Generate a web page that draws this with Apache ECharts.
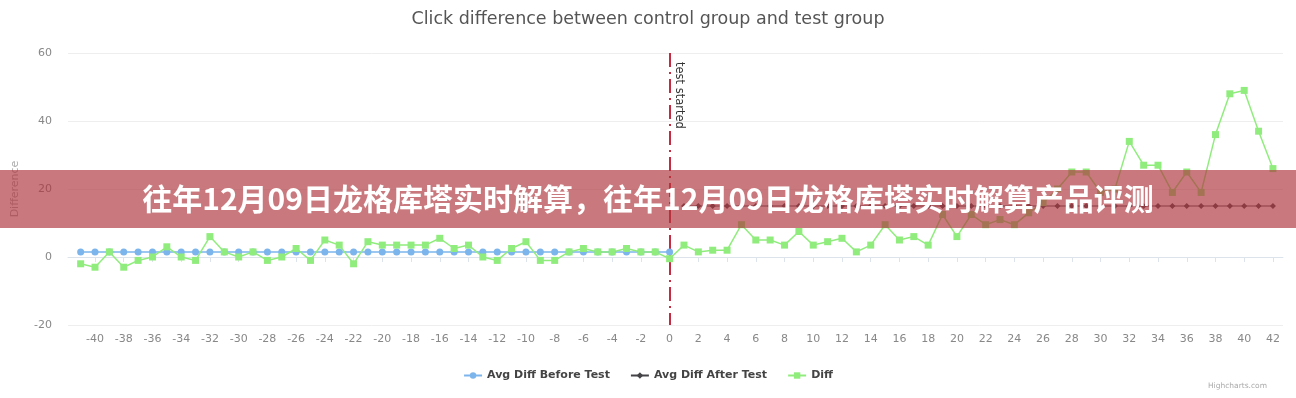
<!DOCTYPE html>
<html>
<head>
<meta charset="utf-8">
<script src="https://cdn.jsdelivr.net/npm/echarts@6/dist/echarts.min.js"></script>
<style>
  html, body { margin: 0; padding: 0; background: #fff; }
  #chart { width: 1296px; height: 398px; }
</style>
</head>
<body>
<div id="chart"></div>
<script>
// days relative to test start
const days = [
  -41, -40, -39, -38, -37, -36, -35, -34, -33, -32, -31, -30, -29, -28,
  -27, -26, -25, -24, -23, -22, -21, -20, -19, -18, -17, -16, -15, -14,
  -13, -12, -11, -10, -9, -8, -7, -6, -5, -4, -3, -2, -1, 0,
  1, 2, 3, 4, 5, 6, 7, 8, 9, 10, 11, 12, 13, 14,
  15, 16, 17, 18, 19, 20, 21, 22, 23, 24, 25, 26, 27, 28,
  29, 30, 31, 32, 33, 34, 35, 36, 37, 38, 39, 40, 41, 42
]
const diff = [
  -2, -3, 1.5, -3, -1, 0, 3, 0, -1, 6, 1.5, 0, 1.5, -1,
  0, 2.5, -1, 5, 3.5, -2, 4.5, 3.5, 3.5, 3.5, 3.5, 5.5, 2.5, 3.5,
  0, -1, 2.5, 4.5, -1, -1, 1.5, 2.5, 1.5, 1.5, 2.5, 1.5, 1.5, -0.5,
  3.5, 1.5, 2, 2, 9.5, 5, 5, 3.5, 7.5, 3.5, 4.5, 5.5, 1.5, 3.5,
  9.5, 5, 6, 3.5, 12.5, 6, 12.5, 9.5, 11, 9.5, 13, 16, 20, 25,
  25, 19, 20, 34, 27, 27, 19, 25, 19, 36, 48, 49, 37, 26
]
// avg before test: days -41..0, avg after test: days 1..42
const avgBefore = [
  1.5, 1.5, 1.5, 1.5, 1.5, 1.5, 1.5, 1.5, 1.5, 1.5, 1.5, 1.5, 1.5, 1.5,
  1.5, 1.5, 1.5, 1.5, 1.5, 1.5, 1.5, 1.5, 1.5, 1.5, 1.5, 1.5, 1.5, 1.5,
  1.5, 1.5, 1.5, 1.5, 1.5, 1.5, 1.5, 1.5, 1.5, 1.5, 1.5, 1.5, 1.5, 1.5
]
const avgAfter = [
  15, 15, 15, 15, 15, 15, 15, 15, 15, 15, 15, 15, 15, 15,
  15, 15, 15, 15, 15, 15, 15, 15, 15, 15, 15, 15, 15, 15,
  15, 15, 15, 15, 15, 15, 15, 15, 15, 15, 15, 15, 15, 15
]
const xTicks = [
  -40, -38, -36, -34, -32, -30, -28, -26, -24, -22, -20, -18, -16, -14,
  -12, -10, -8, -6, -4, -2, 0, 2, 4, 6, 8, 10, 12, 14, 16, 18, 20, 22,
  24, 26, 28, 30, 32, 34, 36, 38, 40, 42
]

const beforeDays = days.slice(0, avgBefore.length)
const afterDays = days.slice(avgBefore.length)
const font = '"DejaVu Sans", sans-serif'

const chart = echarts.init(document.getElementById('chart'))
chart.setOption({
  animation: false,
  title: [
    {
      text: 'Click difference between control group and test group',
      left: 'center', top: 5,
      textStyle: { color: '#555', fontSize: 17.5, fontWeight: 'normal', fontFamily: font }
    },
    {
      text: 'Highcharts.com',
      right: 24, bottom: 3,
      textStyle: { color: '#aaa', fontSize: 7.5, fontWeight: 'normal', fontFamily: font }
    }
  ],
  legend: {
    top: 365,
    left: 'center',
    itemWidth: 18, itemHeight: 8, itemGap: 20,
    textStyle: { color: '#444', fontSize: 11, fontWeight: 'bold', fontFamily: font },
    data: ['Avg Diff Before Test', 'Avg Diff After Test', 'Diff']
  },
  grid: { left: 68, right: 13, top: 53, bottom: 73 },
  xAxis: {
    type: 'value',
    min: -41.88, max: 42.7,
    splitLine: { show: false },
    axisLine: { lineStyle: { color: '#dde3ea' } },
    axisTick: { show: true, length: 5, customValues: xTicks, lineStyle: { color: '#dde3ea' } },
    axisLabel: { customValues: xTicks, color: '#888', fontSize: 11, margin: 9, fontFamily: font }
  },
  yAxis: {
    type: 'value',
    min: -20, max: 60, interval: 20,
    name: 'Difference',
    nameLocation: 'middle',
    nameGap: 47,
    nameTextStyle: { color: '#aaa', fontSize: 11, fontFamily: font },
    axisLine: { show: false },
    axisTick: { show: false },
    axisLabel: { color: '#888', fontSize: 11, margin: 16, fontFamily: font },
    splitLine: { lineStyle: { color: '#eeeeee' } }
  },
  series: [
    {
      name: 'Avg Diff Before Test',
      type: 'line',
      color: '#7cb5ec',
      symbol: 'circle', symbolSize: 7,
      lineStyle: { width: 1.5 },
      data: beforeDays.map((d, i) => [d, avgBefore[i]]),
      markLine: {
        silent: true,
        symbol: ['none', 'none'],
        z: 1,
        lineStyle: { color: '#c42a40', type: [14, 5, 2, 5], width: 2 },
        label: {
          show: true, formatter: 'test started', position: 'insideStartTop',
          color: '#333', fontSize: 11.5, fontFamily: font, distance: [9, 3]
        },
        data: [[{ coord: [0, 60] }, { coord: [0, -20] }]]
      }
    },
    {
      name: 'Avg Diff After Test',
      type: 'line',
      color: '#434348',
      symbol: 'diamond', symbolSize: 6,
      lineStyle: { width: 1.2 },
      data: afterDays.map((d, i) => [d, avgAfter[i]])
    },
    {
      name: 'Diff',
      type: 'line',
      color: '#90ed7d',
      symbol: 'rect', symbolSize: 7,
      lineStyle: { width: 1.5 },
      data: days.map((d, i) => [d, diff[i]])
    }
  ],
  graphic: [
    {
      type: 'rect', left: 0, top: 170, z: 100,
      shape: { width: 1296, height: 58 },
      style: { fill: 'rgba(175, 55, 62, 0.67)' }
    },
    {
      type: 'text', left: 'center', top: 184, z: 101,
      style: {
        text: '往年12月09日龙格库塔实时解算，往年12月09日龙格库塔实时解算产品评测',
        fill: '#fff',
        font: 'bold 30px "Noto Sans CJK SC", sans-serif'
      }
    }
  ]
})

window.addEventListener('resize', () => chart.resize())
</script>
</body>
</html>
